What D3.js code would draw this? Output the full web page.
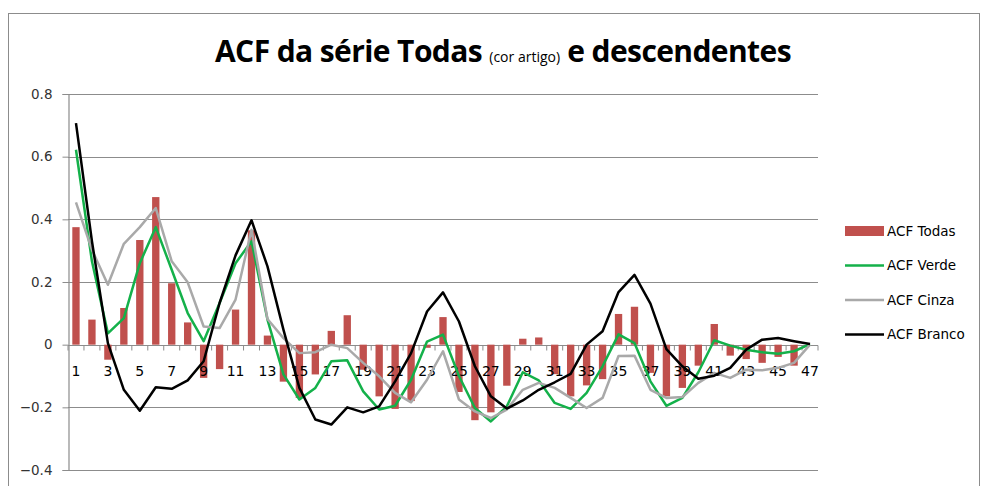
<!DOCTYPE html>
<html>
<head>
<meta charset="utf-8">
<script src="https://cdn.jsdelivr.net/npm/d3@7"></script>
<style>
  body { margin: 0; background: #fff; }
  svg { display: block; }
</style>
</head>
<body>
<svg id="chart" width="982" height="486"></svg>
<script>
// lags 1..47
const lags = d3.range(1, 48);

const acfTodas = [0.375, 0.08, -0.048, 0.117, 0.334, 0.471, 0.196, 0.071, -0.106, -0.078,
  0.112, 0.365, 0.029, -0.118, -0.17, -0.095, 0.044, 0.094, -0.08, -0.165,
  -0.205, -0.18, -0.01, 0.088, -0.151, -0.241, -0.216, -0.131, 0.019, 0.023,
  -0.094, -0.165, -0.13, -0.11, 0.098, 0.121, -0.09, -0.165, -0.138, -0.067,
  0.066, -0.035, -0.046, -0.058, -0.039, -0.067, 0.0];

const acfVerde = [0.622, 0.266, 0.036, 0.085, 0.26, 0.375, 0.239, 0.101, 0.011, 0.133,
  0.26, 0.33, 0.08, -0.095, -0.175, -0.138, -0.053, -0.05, -0.149, -0.207,
  -0.195, -0.112, 0.01, 0.032, -0.1, -0.202, -0.245, -0.197, -0.088, -0.114,
  -0.186, -0.205, -0.154, -0.069, 0.033, 0.005, -0.117, -0.195, -0.17, -0.088,
  0.014, -0.003, -0.016, -0.024, -0.029, -0.021, 0.002];

const acfCinza = [0.454, 0.303, 0.191, 0.322, 0.375, 0.436, 0.266, 0.199, 0.058, 0.053,
  0.144, 0.367, 0.082, 0.021, -0.027, -0.024, 0.0, -0.011, -0.058, -0.101,
  -0.154, -0.184, -0.112, -0.021, -0.175, -0.213, -0.234, -0.207, -0.144, -0.122,
  -0.138, -0.17, -0.202, -0.17, -0.036, -0.035, -0.144, -0.17, -0.167, -0.122,
  -0.09, -0.106, -0.08, -0.082, -0.074, -0.058, 0.0];

const acfBranco = [0.707, 0.33, 0.005, -0.144, -0.211, -0.136, -0.141, -0.114, -0.053, 0.133,
  0.285, 0.397, 0.25, 0.048, -0.138, -0.239, -0.255, -0.2, -0.216, -0.197,
  -0.117, -0.027, 0.106, 0.167, 0.074, -0.069, -0.165, -0.204, -0.178, -0.144,
  -0.12, -0.093, 0.0, 0.043, 0.168, 0.223, 0.131, -0.014, -0.069, -0.109,
  -0.099, -0.074, -0.016, 0.016, 0.021, 0.011, 0.002];

const yTicks = [-0.4, -0.2, 0, 0.2, 0.4, 0.6, 0.8];

const svg = d3.select("#chart");
const plot = { left: 68, right: 818, top: 94, bottom: 470 };

// chart frame
svg.append("rect")
  .attr("x", 8.5).attr("y", 13.5)
  .attr("width", 971).attr("height", 490)
  .attr("fill", "none")
  .attr("stroke", "#8c8c8c")
  .attr("stroke-width", 1);

svg.append("text")
  .attr("x", 503)
  .attr("y", 62)
  .attr("text-anchor", "middle")
  .attr("font-family", "'Open Sans', sans-serif")
  .attr("font-weight", "bold")
  .attr("font-size", "30px")
  .attr("letter-spacing", "-0.6px")
  .attr("fill", "#000")
  .call(t => {
    t.append("tspan").text("ACF da série Todas ");
    t.append("tspan").attr("font-size", "14px").attr("font-weight", "normal").attr("letter-spacing", "0").text("(cor artigo)");
    t.append("tspan").text(" e descendentes");
  });

const x = d3.scaleBand()
  .domain(lags)
  .range([plot.left, plot.right]);

const y = d3.scaleLinear()
  .domain([-0.4, 0.8])
  .range([plot.bottom, plot.top]);

// gridlines
svg.append("g")
  .selectAll("line")
  .data(yTicks)
  .enter().append("line")
  .attr("x1", plot.left).attr("x2", plot.right)
  .attr("y1", d => Math.round(y(d)) + 0.5)
  .attr("y2", d => Math.round(y(d)) + 0.5)
  .attr("stroke", "#8c8c8c")
  .attr("stroke-width", 1.2);

// y axis
const yAxis = d3.axisLeft(y)
  .tickValues(yTicks)
  .tickSize(6)
  .tickPadding(10)
  .tickFormat(d => d === 0 ? "0" : d3.format(".1f")(d));

svg.append("g")
  .attr("transform", `translate(${plot.left + 0.5},0)`)
  .call(yAxis)
  .call(g => g.select(".domain").attr("stroke", "#8c8c8c").attr("stroke-width", 1.2))
  .call(g => g.selectAll(".tick line").attr("stroke", "#8c8c8c"))
  .call(g => g.selectAll(".tick text")
    .attr("font-family", "'DejaVu Sans', sans-serif")
    .attr("font-size", "13.5px")
    .attr("fill", "#333"));

// bars
const barW = x.bandwidth() * 0.46;
svg.append("g")
  .selectAll("rect")
  .data(lags)
  .enter().append("rect")
  .attr("x", d => x(d) + (x.bandwidth() - barW) / 2)
  .attr("width", barW)
  .attr("y", (d, i) => y(Math.max(0, acfTodas[i])))
  .attr("height", (d, i) => Math.abs(y(acfTodas[i]) - y(0)))
  .attr("fill", "#c0504d");

// category tick marks on the zero line
const zeroY = Math.round(y(0)) + 0.5;
svg.append("g")
  .selectAll("line")
  .data(d3.range(0, 48))
  .enter().append("line")
  .attr("x1", i => plot.left + i * x.step())
  .attr("x2", i => plot.left + i * x.step())
  .attr("y1", zeroY)
  .attr("y2", zeroY + 5)
  .attr("stroke", "#8c8c8c");

// x labels (odd lags)
svg.append("g")
  .selectAll("text")
  .data(lags.filter(d => d % 2 === 1))
  .enter().append("text")
  .attr("x", d => x(d) + x.bandwidth() / 2)
  .attr("y", zeroY + 30)
  .attr("text-anchor", "middle")
  .attr("font-family", "'DejaVu Sans', sans-serif")
  .attr("font-size", "14px")
  .attr("fill", "#000")
  .text(d => d);

const series = [
  { name: "ACF Verde", values: acfVerde, color: "#14b14a" },
  { name: "ACF Cinza", values: acfCinza, color: "#a9a9a9" },
  { name: "ACF Branco", values: acfBranco, color: "#000000" }
];

const line = d3.line()
  .x((d, i) => x(lags[i]) + x.bandwidth() / 2)
  .y(d => y(d));

svg.append("g")
  .selectAll("path")
  .data(series)
  .enter().append("path")
  .attr("d", d => line(d.values))
  .attr("fill", "none")
  .attr("stroke", d => d.color)
  .attr("stroke-width", 2.5)
  .attr("stroke-linejoin", "round");

// legend
const legendItems = [{ name: "ACF Todas", color: "#c0504d", bar: true }].concat(series);
const legend = svg.append("g")
  .selectAll("g")
  .data(legendItems)
  .enter().append("g")
  .attr("transform", (d, i) => `translate(845, ${231 + i * 34.5})`);

legend.append("rect")
  .attr("x", 0)
  .attr("y", d => d.bar ? -5 : -1.25)
  .attr("width", 39)
  .attr("height", d => d.bar ? 10 : 2.5)
  .attr("fill", d => d.color);

legend.append("text")
  .attr("x", 42)
  .attr("y", 0)
  .attr("dy", "0.35em")
  .attr("font-family", "'DejaVu Sans', sans-serif")
  .attr("font-size", "13.5px")
  .attr("fill", "#000")
  .text(d => d.name);
</script>
</body>
</html>
